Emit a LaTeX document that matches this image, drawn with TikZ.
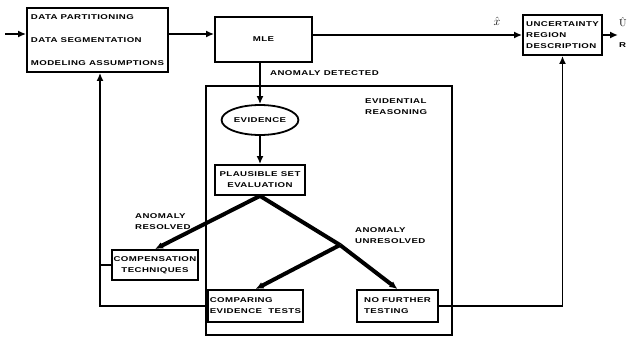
\documentclass[tikz,border=0pt]{standalone}
\usepackage{fontspec}
\newfontfamily\lblfont[FakeStretch=1.38,LetterSpace=6]{Liberation Sans}
\usetikzlibrary{shapes.geometric,arrows.meta}

\begin{document}
\begin{tikzpicture}[x=1pt,y=-1pt,
   txt/.style={font=\lblfont\bfseries\fontsize{7}{11}\selectfont,inner sep=0pt,align=left},
   caja/.style={draw,line width=1.8pt,txt,inner sep=0pt},
   punta/.style={-{Latex[length=8pt,width=7pt]}},
   flow/.style={line width=1.8pt,punta},
   gruesa/.style={line width=4pt}]
   \useasboundingbox (0,0) rectangle (627,338);
   %cajas
   \node[caja,minimum width=141pt,minimum height=64pt,
         font=\lblfont\bfseries\fontsize{7}{23}\selectfont] (data) at (97.5,40)
         {DATA PARTITIONING\\DATA SEGMENTATION\\MODELING ASSUMPTIONS};
   \node[caja,minimum width=97pt,minimum height=45pt] (mle) at (263.5,39.5) {MLE};
   \node[caja,minimum width=79pt,minimum height=40pt] (unc) at (562.5,35)
         {UNCERTAINTY\\REGION\\DESCRIPTION};
   \node[draw,line width=1.5pt,minimum width=246pt,minimum height=249pt] (er) at (329,210.5) {};
   \node[txt,anchor=north west] (erlbl) at (365,98) {EVIDENTIAL\\REASONING};
   \node[caja,ellipse,minimum width=62pt,minimum height=30pt,inner xsep=1pt] (ev) at (260,120) {EVIDENCE};
   \node[caja,minimum width=90pt,minimum height=30pt,align=center] (plaus) at (260,180)
         {PLAUSIBLE SET\\EVALUATION};
   \node[caja,minimum width=86pt,minimum height=30pt,align=center] (comp) at (155,265)
         {COMPENSATION\\TECHNIQUES};
   \node[caja,minimum width=95pt,minimum height=32pt] (cmp) at (255.5,306)
         {COMPARING\\EVIDENCE\ \ TESTS};
   \node[caja,minimum width=81pt,minimum height=32pt] (nft) at (397.5,306)
         {NO FURTHER\\TESTING};
   %puntos
   \coordinate (in) at (5,34);
   \coordinate (out) at (618,35);
   \coordinate (j) at (340,245);
   \coordinate (fb) at (100,306);
   %flechas
   \draw[flow] (in) -- (in -| data.west);
   \draw[flow] (data.east |- in) -- (mle.west |- in);
   \draw[flow] (mle.east |- unc.west) -- (unc.west);
   \node[font=\large] (xhat) at (497,21) {$\hat{x}$};
   \draw[flow] (unc.east) -- (out);
   \node[anchor=west,inner sep=0pt] (uhat) at (619,22) {$\hat{\mathrm{U}}$};
   \node[txt,anchor=west] (ur) at (619,45) {R};
   \draw[flow] (ev.north |- mle.south) -- (ev.north);
   \node[txt,anchor=west] (det) at (270,73) {ANOMALY DETECTED};
   \draw[flow] (ev.south) -- (plaus.north);
   \draw[gruesa,punta] (plaus.south) -- (comp.north);
   \draw[gruesa] (plaus.south) -- (j);
   \draw[gruesa,punta] (j) -- (nft.north);
   \draw[gruesa,punta] (j) -- (cmp.north);
   \node[txt,anchor=west] (res) at (135,222) {ANOMALY\\RESOLVED};
   \node[txt,anchor=west] (unres) at (355,236) {ANOMALY\\UNRESOLVED};
   %retorno
   \draw[flow] (cmp.west) -- (fb) -- (fb |- data.south);
   \draw[line width=1.8pt] (comp.west) -- (comp.west -| fb);
   \draw[flow] (nft.east) -- (nft.east -| unc.south) -- (unc.south);
\end{tikzpicture}
\end{document}
